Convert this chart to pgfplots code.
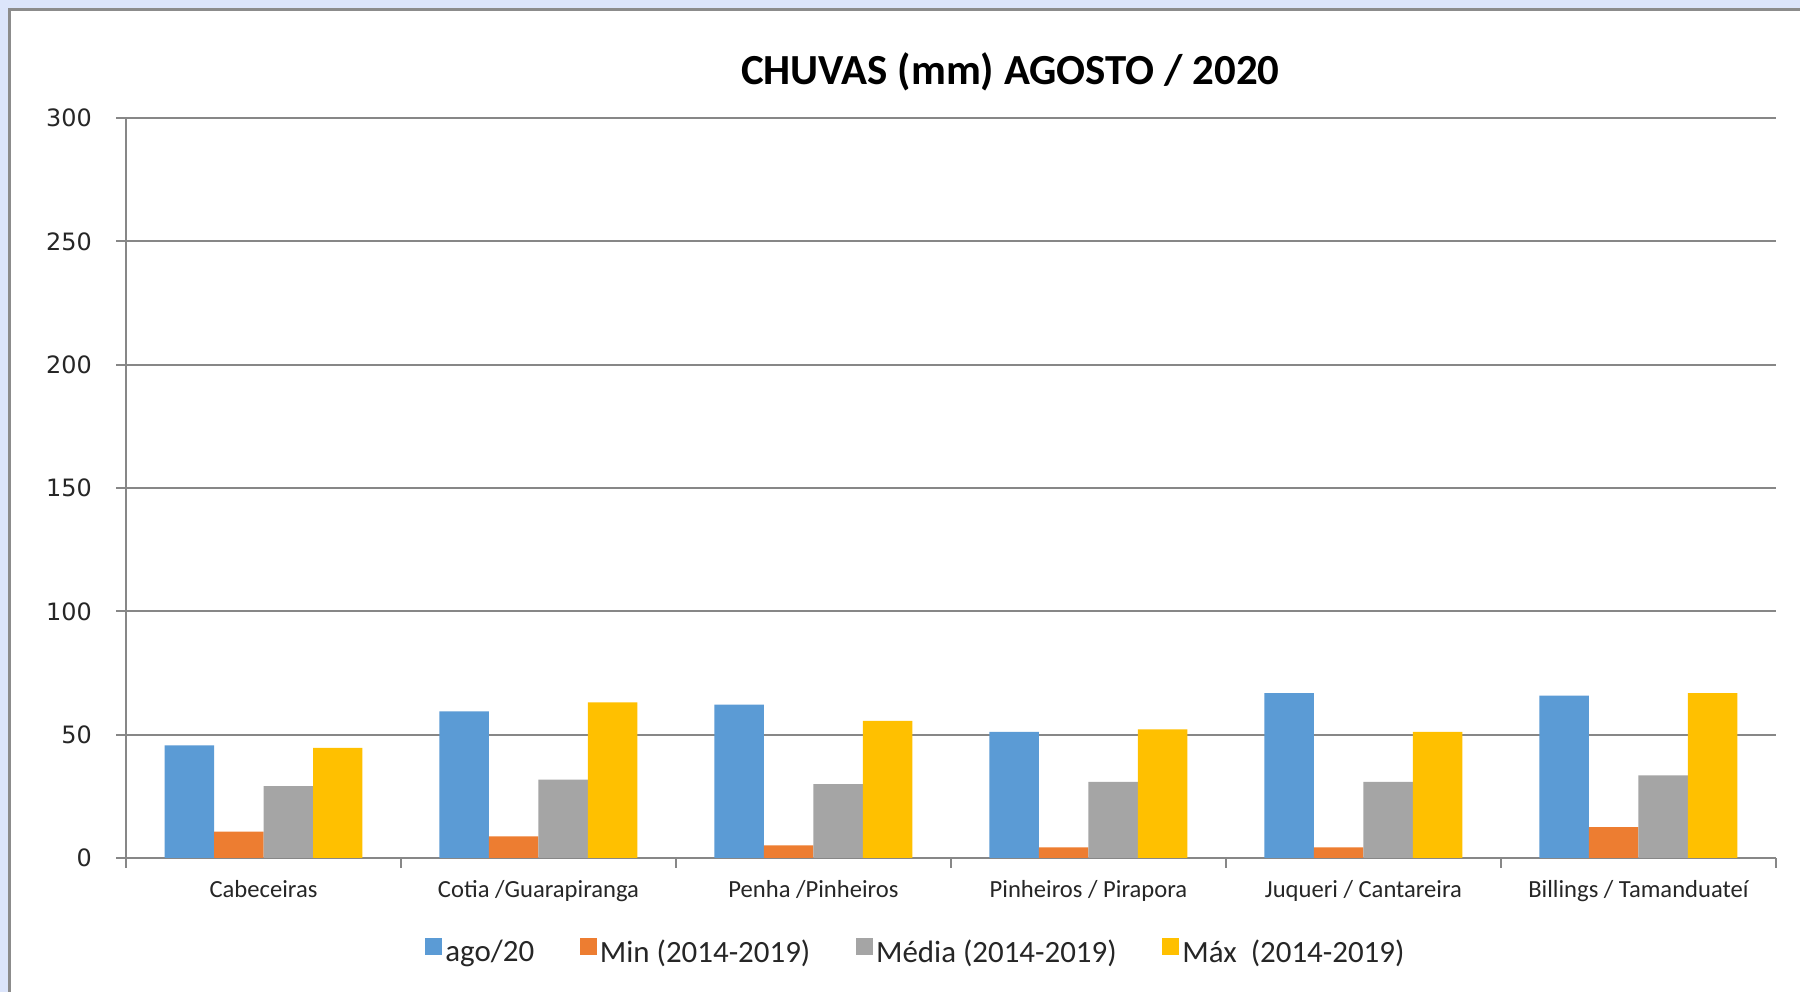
\documentclass[border=0pt]{standalone}
\usepackage{pgfplots}
\pgfplotsset{compat=1.18}
\usepackage{fontspec}
\setmainfont{Carlito}
\newfontfamily\tickfont{DejaVu Sans}
\definecolor{cBlue}{HTML}{5B9BD5}
\definecolor{cOrange}{HTML}{ED7D31}
\definecolor{cGray}{HTML}{A5A5A5}
\definecolor{cYellow}{HTML}{FFC000}
\definecolor{bgBlue}{HTML}{DCE5FB}
\definecolor{frameGray}{HTML}{8C8C8C}
\definecolor{gridGray}{HTML}{878787}
\definecolor{txt}{HTML}{262626}
\begin{document}
\begin{tikzpicture}
\useasboundingbox (0pt,0pt) rectangle (512.1pt,282.2pt);
\fill[bgBlue] (0pt,0pt) rectangle (512.1pt,282.2pt);
\fill[white] (2.56pt,0pt) rectangle (512.1pt,279.7pt);
\draw[frameGray, line width=0.8pt] (2.7pt,0pt) -- (2.7pt,279.5pt) -- (512.1pt,279.5pt);
\begin{axis}[
  at={(35.85pt,38.12pt)}, anchor=south west,
  scale only axis,
  width=469.4pt, height=210.5pt,
  xmin=-0.5, xmax=5.5,
  ymin=0, ymax=300,
  ytick={0,50,...,300},
  xtick={-0.5,0.5,...,5.5},
  x tick label as interval,
  xticklabels={Cabeceiras, Cotia /Guarapiranga, Penha /Pinheiros, Pinheiros / Pirapora, Juqueri / Cantareira, Billings / Tamanduateí},
  axis lines*=left,
  axis line style={draw=gridGray, line width=0.6pt},
  ymajorgrids,
  major grid style={draw=gridGray, line width=0.6pt},
  tick align=outside,
  tick pos=left,
  major tick length=2.8pt,
  tick style={draw=gridGray, line width=0.6pt},
  /pgf/number format/assume math mode=true,
  yticklabel style={font=\tickfont\fontsize{6.8}{8}\selectfont, text=txt, xshift=-3.4pt},
  xticklabel style={font=\fontsize{7}{8}\selectfont, text=txt},
  title={CHUVAS (mm) AGOSTO / 2020},
  title style={at={(0.536,1)}, anchor=base, yshift=3.6pt, font=\bfseries\fontsize{12.2}{14}\selectfont, text=black},
  legend columns=4,
  legend style={at={(0.479,-0.129)}, anchor=center, draw=none, fill=none,
    font=\fontsize{8.8}{10}\selectfont, text=txt,
    /tikz/every even column/.append style={column sep=12pt},
    nodes={inner sep=0.9pt}},
  legend image code/.code={\fill[#1] (0pt,-0.4pt) rectangle (4.9pt,4.5pt);},
]
\addplot[ybar, bar width=0.18, bar shift=-0.27, fill=cBlue, draw=none] coordinates {(0,45.6) (1,59.4) (2,62.2) (3,51.1) (4,66.8) (5,65.8)};
\addlegendentry{ago/20}
\addplot[ybar, bar width=0.18, bar shift=-0.09, fill=cOrange, draw=none] coordinates {(0,10.7) (1,8.7) (2,5.1) (3,4.3) (4,4.3) (5,12.5)};
\addlegendentry{Min (2014-2019)}
\addplot[ybar, bar width=0.18, bar shift=0.09, fill=cGray, draw=none] coordinates {(0,29.1) (1,31.8) (2,29.9) (3,30.8) (4,30.8) (5,33.5)};
\addlegendentry{Média (2014-2019)}
\addplot[ybar, bar width=0.18, bar shift=0.27, fill=cYellow, draw=none] coordinates {(0,44.6) (1,63.1) (2,55.6) (3,52.1) (4,51.1) (5,66.8)};
\addlegendentry{Máx\ \ (2014-2019)}
\end{axis}
\end{tikzpicture}
\end{document}
